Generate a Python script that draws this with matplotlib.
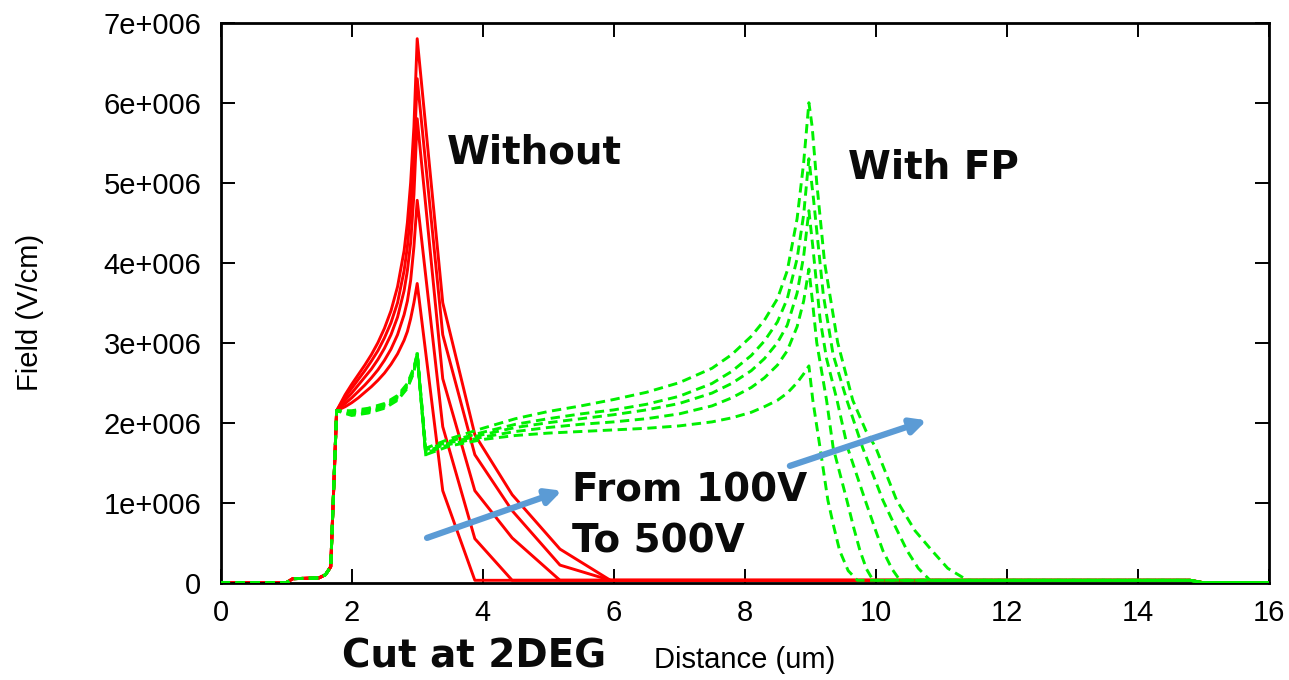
import matplotlib
matplotlib.use("Agg")
import matplotlib.pyplot as plt
from matplotlib.ticker import FuncFormatter

# ---------------- data (field in 1e6 V/cm, distance in um) ----------------
x_start = [0.0, 1.0, 1.1, 1.5, 1.6, 1.68, 1.77]
y_start = [0.0, 0.0, 0.05, 0.06, 0.1, 0.2, 2.15]

# red curves (without field plate), 100V .. 500V
red_rise_x = [1.9, 2.0, 2.1, 2.2, 2.3, 2.4, 2.5, 2.6, 2.7, 2.8, 2.85, 2.9, 2.95, 3.0]
red_100_rise = [2.20, 2.25, 2.31, 2.38, 2.45, 2.53, 2.62, 2.73, 2.86, 3.03, 3.14, 3.30, 3.50, 3.74]
red_200_rise = [2.24, 2.31, 2.39, 2.47, 2.56, 2.66, 2.78, 2.92, 3.10, 3.35, 3.52, 3.78, 4.20, 4.78]
red_300_rise = [2.28, 2.37, 2.47, 2.57, 2.67, 2.79, 2.93, 3.10, 3.32, 3.65, 3.90, 4.25, 4.85, 5.80]
red_400_rise = [2.32, 2.43, 2.54, 2.65, 2.77, 2.90, 3.06, 3.25, 3.50, 3.90, 4.20, 4.65, 5.30, 6.30]
red_500_rise = [2.35, 2.48, 2.60, 2.72, 2.85, 3.00, 3.18, 3.40, 3.70, 4.15, 4.50, 5.00, 5.70, 6.80]

red_100_fall_x = [3.39, 3.88, 14.8, 15.0, 16.0]
red_100_fall_y = [1.15, 0.03, 0.03, 0.0, 0.0]
red_200_fall_x = [3.39, 3.88, 4.45, 14.8, 15.0, 16.0]
red_200_fall_y = [1.95, 0.55, 0.03, 0.03, 0.0, 0.0]
red_300_fall_x = [3.39, 3.88, 4.45, 5.18, 14.8, 15.0, 16.0]
red_300_fall_y = [2.55, 1.15, 0.56, 0.03, 0.03, 0.0, 0.0]
red_400_fall_x = [3.39, 3.88, 4.45, 5.18, 5.95, 14.8, 15.0, 16.0]
red_400_fall_y = [3.10, 1.60, 0.90, 0.22, 0.03, 0.03, 0.0, 0.0]
red_500_fall_x = [3.39, 3.88, 4.45, 5.18, 5.95, 14.8, 15.0, 16.0]
red_500_fall_y = [3.50, 1.85, 1.10, 0.42, 0.03, 0.03, 0.0, 0.0]

# green curves (with field plate), 100V .. 500V
green_pre_x = [2.0, 2.25, 2.5, 2.7, 2.85, 2.95, 3.0]
green_100_pre = [2.09, 2.12, 2.18, 2.28, 2.43, 2.63, 2.86]
green_200_pre = [2.105, 2.135, 2.195, 2.295, 2.445, 2.645, 2.86]
green_300_pre = [2.12, 2.15, 2.21, 2.31, 2.46, 2.66, 2.86]
green_400_pre = [2.135, 2.165, 2.225, 2.325, 2.475, 2.675, 2.86]
green_500_pre = [2.15, 2.18, 2.24, 2.34, 2.49, 2.69, 2.86]

green_mid_x = [3.13, 3.5, 4.0, 4.5, 5.0, 5.5, 6.0, 6.5, 7.0, 7.5, 7.8, 8.1, 8.3, 8.5, 8.65, 8.8, 8.9, 8.98]
green_100_mid = [1.60, 1.71, 1.79, 1.84, 1.87, 1.89, 1.91, 1.93, 1.96, 2.01, 2.06, 2.13, 2.20, 2.28, 2.37, 2.50, 2.61, 2.71]
green_200_mid = [1.62, 1.73, 1.82, 1.89, 1.94, 1.98, 2.01, 2.05, 2.11, 2.21, 2.31, 2.44, 2.56, 2.72, 2.90, 3.20, 3.52, 3.92]
green_300_mid = [1.64, 1.75, 1.85, 1.94, 2.00, 2.05, 2.10, 2.16, 2.24, 2.37, 2.49, 2.65, 2.80, 3.00, 3.22, 3.62, 4.08, 4.65]
green_400_mid = [1.66, 1.77, 1.88, 1.98, 2.05, 2.11, 2.16, 2.23, 2.33, 2.49, 2.64, 2.84, 3.02, 3.26, 3.55, 4.05, 4.60, 5.30]
green_500_mid = [1.68, 1.80, 1.93, 2.05, 2.14, 2.21, 2.29, 2.38, 2.50, 2.68, 2.85, 3.08, 3.28, 3.55, 3.90, 4.55, 5.25, 6.00]

green_100_fall_x = [9.04, 9.15, 9.27, 9.36, 9.45, 9.58, 9.72, 14.8, 15.0, 16.0]
green_100_fall_y = [2.28, 1.69, 1.03, 0.70, 0.40, 0.15, 0.03, 0.03, 0.0, 0.0]
green_200_fall_x = [9.03, 9.1, 9.25, 9.35, 9.56, 9.66, 9.76, 9.86, 9.96, 14.8, 15.0, 16.0]
green_200_fall_y = [3.55, 3.00, 2.28, 1.69, 1.03, 0.70, 0.40, 0.17, 0.03, 0.03, 0.0, 0.0]
green_300_fall_x = [9.04, 9.15, 9.25, 9.41, 9.57, 9.84, 10.0, 10.11, 10.25, 10.37, 14.8, 15.0, 16.0]
green_300_fall_y = [4.20, 3.30, 2.80, 2.28, 1.69, 1.03, 0.65, 0.40, 0.17, 0.03, 0.03, 0.0, 0.0]
green_400_fall_x = [9.05, 9.2, 9.35, 9.56, 9.8, 10.11, 10.3, 10.48, 10.65, 10.83, 14.8, 15.0, 16.0]
green_400_fall_y = [4.80, 3.60, 2.85, 2.28, 1.69, 1.03, 0.70, 0.40, 0.18, 0.03, 0.03, 0.0, 0.0]
green_500_fall_x = [9.03, 9.1, 9.22, 9.42, 9.65, 9.85, 10.0, 10.32, 10.6, 10.86, 11.1, 11.4, 14.8, 15.0, 16.0]
green_500_fall_y = [5.70, 5.00, 4.00, 3.00, 2.28, 1.90, 1.69, 1.03, 0.65, 0.40, 0.18, 0.03, 0.03, 0.0, 0.0]

x_ticks = [0, 2, 4, 6, 8, 10, 12, 14, 16]
y_ticks = [0, 1, 2, 3, 4, 5, 6, 7]

SCALE = 1e6

red_sets = [
    (red_100_rise, red_100_fall_x, red_100_fall_y),
    (red_200_rise, red_200_fall_x, red_200_fall_y),
    (red_300_rise, red_300_fall_x, red_300_fall_y),
    (red_400_rise, red_400_fall_x, red_400_fall_y),
    (red_500_rise, red_500_fall_x, red_500_fall_y),
]
green_sets = [
    (green_100_pre, green_100_mid, green_100_fall_x, green_100_fall_y),
    (green_200_pre, green_200_mid, green_200_fall_x, green_200_fall_y),
    (green_300_pre, green_300_mid, green_300_fall_x, green_300_fall_y),
    (green_400_pre, green_400_mid, green_400_fall_x, green_400_fall_y),
    (green_500_pre, green_500_mid, green_500_fall_x, green_500_fall_y),
]

# ---------------- figure ----------------
plt.rcParams['font.family'] = ['Liberation Sans', 'DejaVu Sans']
fig = plt.figure(figsize=(12.89, 6.80), dpi=100)
ax = fig.add_axes([220.7 / 1289, 1 - 582.7 / 680, 1048 / 1289, 560 / 680])

RED = '#ff0000'
GREEN = '#00f000'
LW = 2.1

for rise, fx, fy in red_sets:
    xs = x_start + red_rise_x + fx
    ys = y_start + rise + fy
    ax.plot(xs, [v * SCALE for v in ys], color=RED, lw=LW, zorder=2)

for pre, mid, fx, fy in green_sets:
    xs = x_start + green_pre_x + green_mid_x + fx
    ys = y_start + pre + mid + fy
    ax.plot(xs, [v * SCALE for v in ys], color=GREEN, lw=LW, ls=(0, (3.2, 1.9)), zorder=3)

# solid drop segment of the field-plate curves at the gate edge
seg_x = green_pre_x[-1:] + green_mid_x[:1]
seg_y = green_100_pre[-1:] + green_100_mid[:1]
ax.plot(seg_x, [v * SCALE for v in seg_y], color=GREEN, lw=LW, zorder=3)

ax.set_xlim(0, 16)
ax.set_ylim(0, 7 * SCALE)
ax.set_xticks(x_ticks)
ax.set_yticks([v * SCALE for v in y_ticks])
ax.yaxis.set_major_formatter(FuncFormatter(lambda v, p: '0' if v == 0 else f'{int(round(v / SCALE))}e+006'))
ax.tick_params(direction='in', length=10, width=1.4, labelsize=21, top=True, right=True,
               colors='black')
ax.tick_params(axis='y', pad=14)
ax.tick_params(axis='x', pad=12)
for s in ax.spines.values():
    s.set_linewidth(2.0)
    s.set_color('black')

fig.text(30 / 1289, 1 - 312 / 680, 'Field (V/cm)', rotation=90, ha='center', va='center', fontsize=21)
fig.text(745 / 1289, 1 - 660 / 680, 'Distance (um)', ha='center', va='center', fontsize=21)

bold = dict(fontsize=28, fontweight='bold', family='DejaVu Sans', color='#0a0a0a')
ax.text(3.45, 5.38 * SCALE, 'Without', ha='left', va='center', **bold)
ax.text(9.58, 5.18 * SCALE, 'With FP', ha='left', va='center', **bold)
ax.text(5.36, 1.15 * SCALE, 'From 100V', ha='left', va='center', **bold)
ax.text(5.36, 0.52 * SCALE, 'To 500V', ha='left', va='center', **bold)
fig.text(342 / 1289, 1 - 657 / 680, 'Cut at 2DEG', ha='left', va='center', **bold)

arrow = dict(arrowstyle='-|>,head_length=0.9,head_width=0.45', color='#5b9bd5', lw=4.5,
             shrinkA=0, shrinkB=0)
ax.annotate('', xy=(5.21, 1.15 * SCALE), xytext=(3.15, 0.56 * SCALE), arrowprops=arrow, zorder=5)
ax.annotate('', xy=(10.78, 2.03 * SCALE), xytext=(8.69, 1.46 * SCALE), arrowprops=arrow, zorder=5)

fig.savefig('out.png', dpi=100)
